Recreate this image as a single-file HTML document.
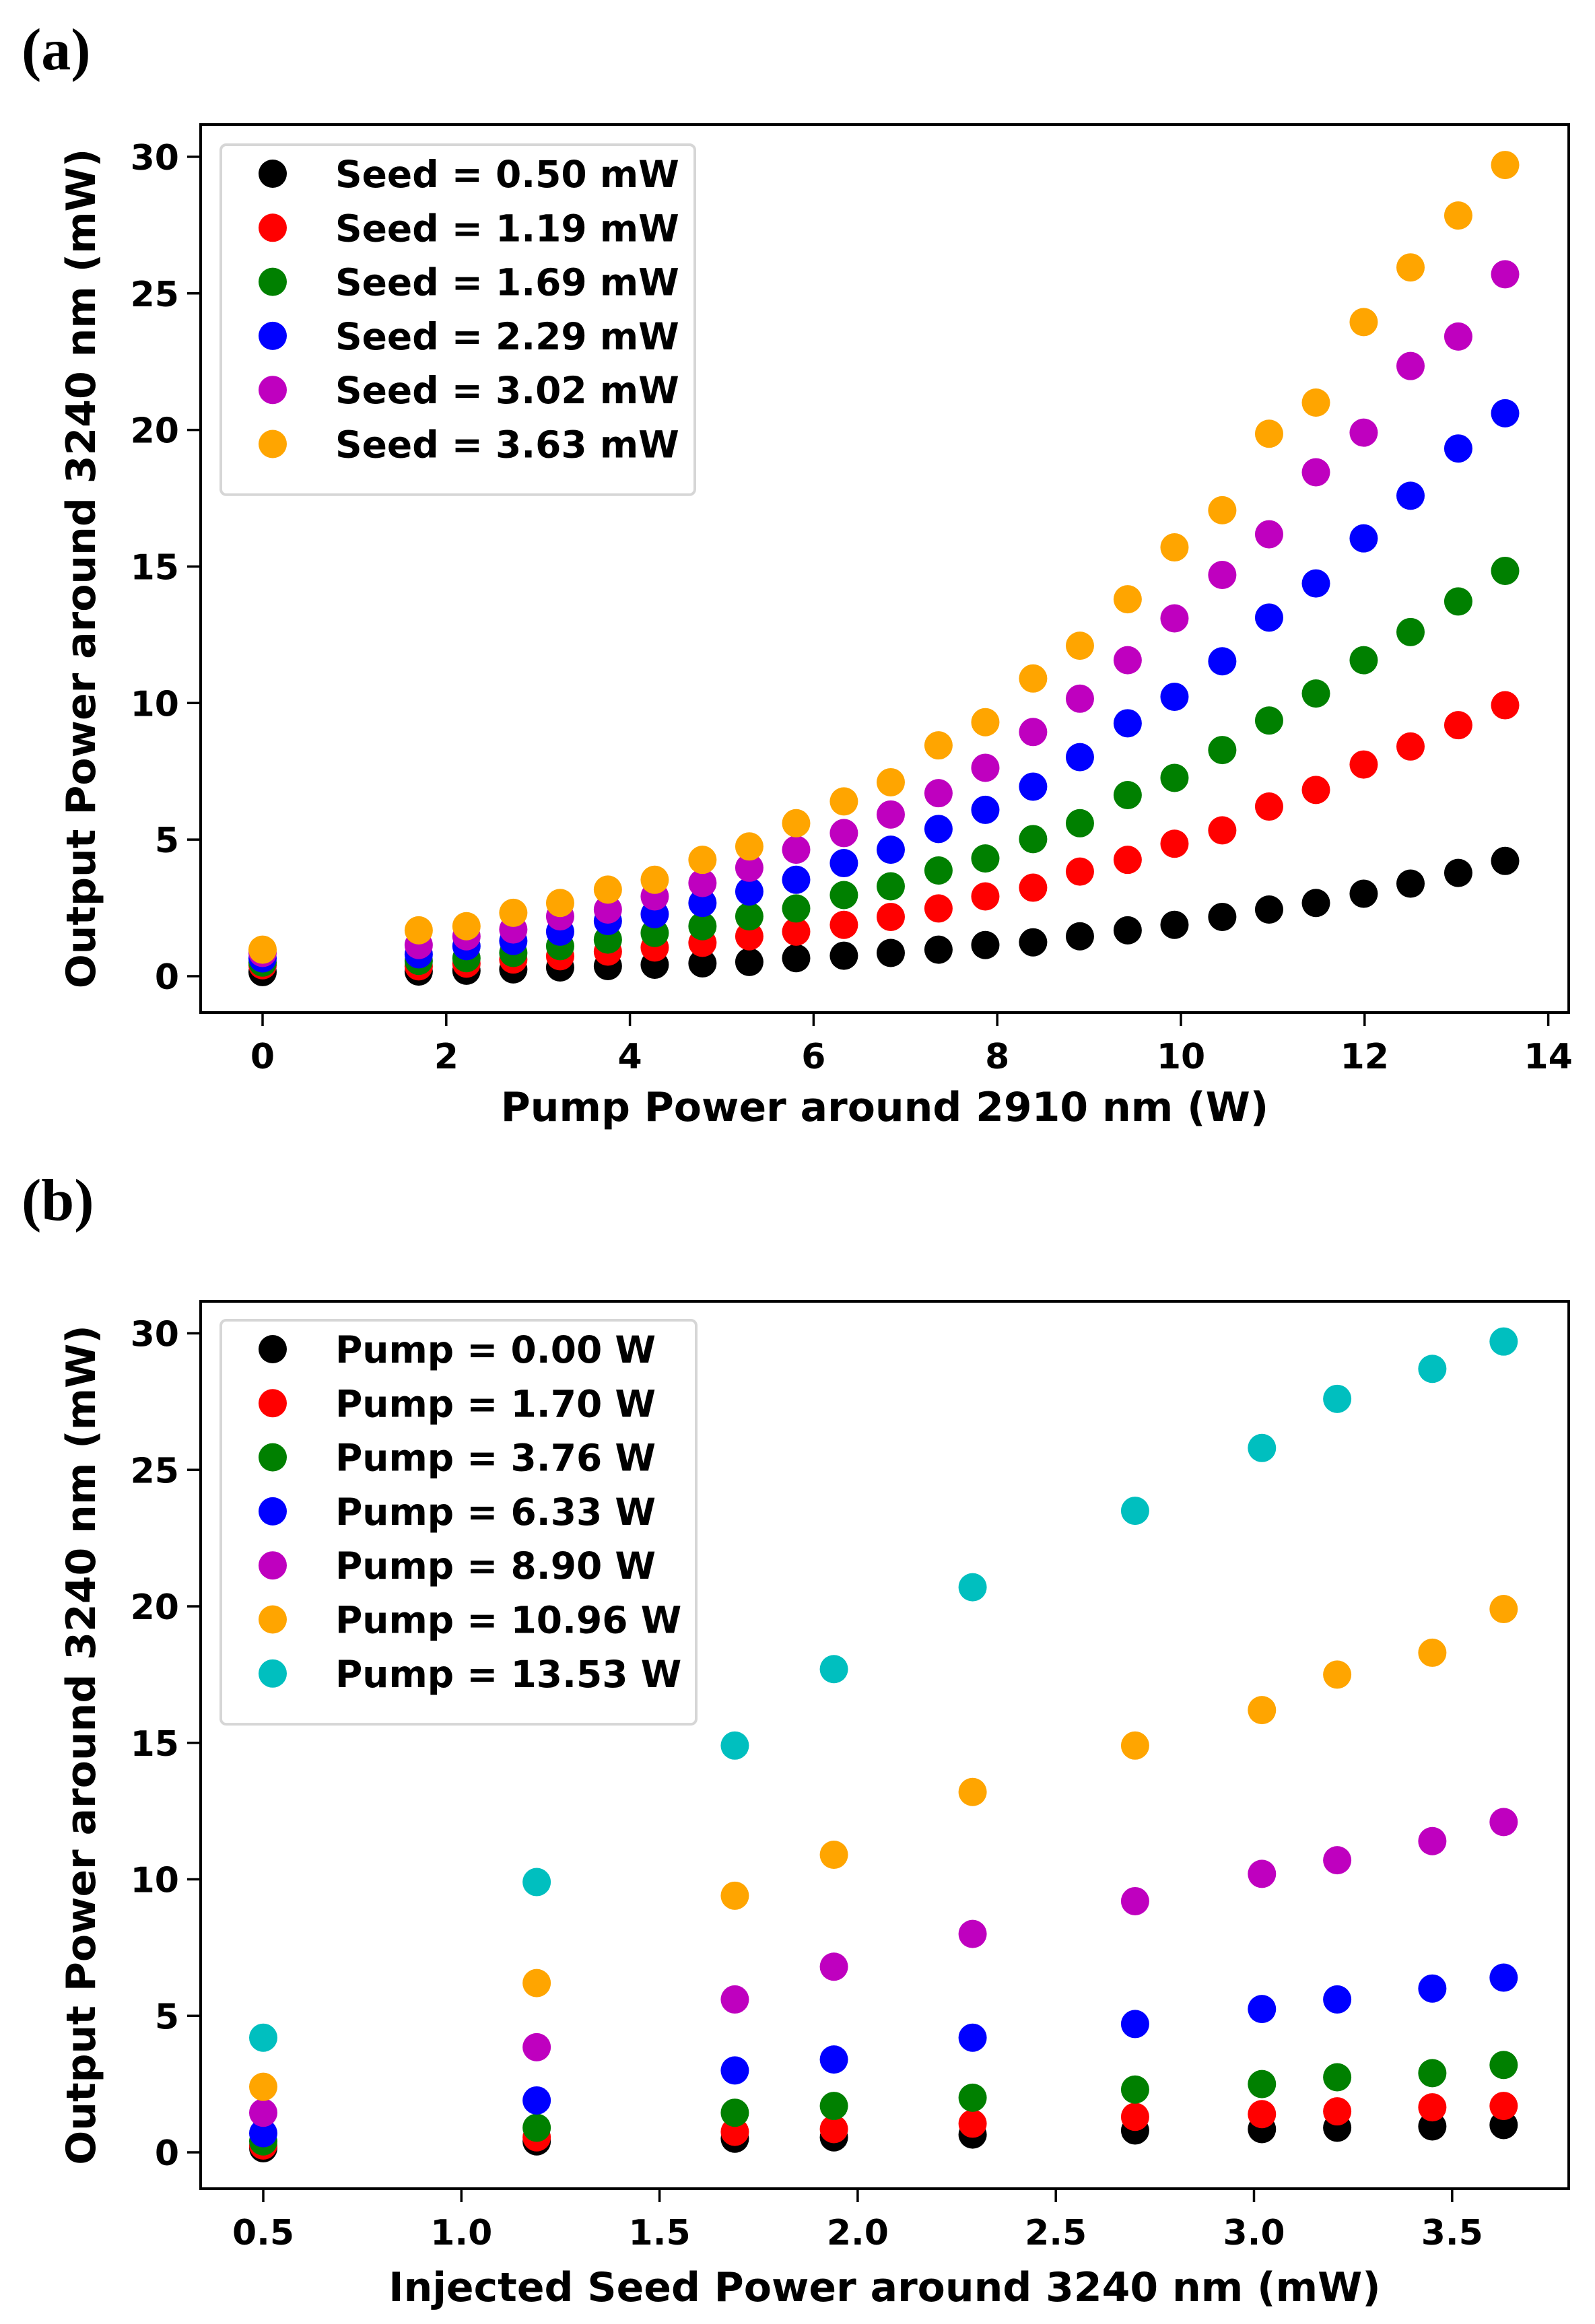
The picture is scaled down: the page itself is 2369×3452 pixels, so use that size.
<!DOCTYPE html>
<html><head><meta charset="utf-8"><style>
html,body{margin:0;padding:0;background:#fff;}
svg{display:block;}
text{font-family:"DejaVu Sans","Liberation Sans",sans-serif;font-weight:bold;fill:#000;}
.lbl{font-family:"Liberation Serif","DejaVu Serif",serif;font-weight:bold;}
</style></head><body>
<svg id="fig" width="2369" height="3452" viewBox="0 0 2369 3452" xmlns="http://www.w3.org/2000/svg">
<rect x="0" y="0" width="2369" height="3452" fill="#fff"/>
<text class="lbl" x="32" y="103" font-size="88">(a)</text>
<text class="lbl" x="32" y="1812" font-size="88">(b)</text>
</svg>
<script>
// ---------- Panel (a) data ----------
const pumpA = [0,1.70,2.22,2.73,3.24,3.76,4.27,4.79,5.30,5.81,6.33,6.84,7.36,7.87,8.39,8.90,9.42,9.93,10.45,10.96,11.47,11.99,12.50,13.02,13.53];
const seedLabelsA = ["Seed = 0.50 mW","Seed = 1.19 mW","Seed = 1.69 mW","Seed = 2.29 mW","Seed = 3.02 mW","Seed = 3.63 mW"];
const seed050 = [0.15,0.17,0.20,0.25,0.32,0.37,0.42,0.47,0.52,0.66,0.75,0.85,0.97,1.14,1.24,1.46,1.68,1.88,2.17,2.44,2.68,3.02,3.39,3.78,4.22];
const seed119 = [0.40,0.36,0.46,0.61,0.73,0.90,1.05,1.22,1.46,1.63,1.88,2.17,2.48,2.92,3.24,3.83,4.26,4.85,5.34,6.21,6.82,7.75,8.41,9.19,9.92];
const seed169 = [0.50,0.56,0.66,0.85,1.10,1.34,1.58,1.83,2.19,2.48,2.97,3.29,3.87,4.31,5.02,5.60,6.63,7.26,8.28,9.36,10.35,11.57,12.60,13.72,14.84];
const seed229 = [0.65,0.80,1.10,1.29,1.63,2.02,2.27,2.68,3.10,3.53,4.14,4.63,5.39,6.09,6.94,8.02,9.26,10.23,11.53,13.13,14.38,16.03,17.59,19.32,20.61];
const seed302 = [0.85,1.14,1.46,1.71,2.19,2.44,2.92,3.41,3.97,4.63,5.24,5.92,6.70,7.63,8.94,10.16,11.57,13.10,14.69,16.18,18.45,19.90,22.34,23.42,25.70];
const seed363 = [0.97,1.68,1.83,2.32,2.68,3.17,3.53,4.26,4.75,5.60,6.40,7.10,8.45,9.30,10.90,12.10,13.80,15.70,17.06,19.86,21.00,23.95,25.95,27.85,29.70];
const xTicksA = [0,2,4,6,8,10,12,14];
const yTicks = [0,5,10,15,20,25,30];

// ---------- Panel (b) data ----------
const seedB = [0.50,1.19,1.69,1.94,2.29,2.70,3.02,3.21,3.45,3.63];
const pumpLabelsB = ["Pump = 0.00 W","Pump = 1.70 W","Pump = 3.76 W","Pump = 6.33 W","Pump = 8.90 W","Pump = 10.96 W","Pump = 13.53 W"];
const pump000 = [0.15,0.40,0.50,0.55,0.65,0.80,0.85,0.90,0.95,1.00];
const pump170 = [0.25,0.55,0.75,0.85,1.05,1.30,1.40,1.50,1.65,1.70];
const pump376 = [0.40,0.90,1.45,1.70,2.00,2.30,2.50,2.75,2.90,3.20];
const pump633 = [0.70,1.90,3.00,3.40,4.20,4.70,5.25,5.60,6.00,6.40];
const pump890 = [1.45,3.85,5.60,6.80,8.00,9.20,10.20,10.70,11.40,12.10];
const pump1096 = [2.40,6.20,9.40,10.90,13.20,14.90,16.20,17.50,18.30,19.90];
const pump1353 = [4.20,9.90,14.90,17.70,20.70,23.50,25.80,27.60,28.70,29.70];
const xTicksB = [0.5,1.0,1.5,2.0,2.5,3.0,3.5];
const xTickTextB = ["0.5","1.0","1.5","2.0","2.5","3.0","3.5"];

const colorsA = ["#000000","#ff0000","#008000","#0000ff","#bf00bf","#ffa500"];
const colorsB = ["#000000","#ff0000","#008000","#0000ff","#bf00bf","#ffa500","#00bfbf"];

const NS = "http://www.w3.org/2000/svg";
const svg = document.getElementById("fig");
function mk(tag, attrs, parent, txt){
  const e = document.createElementNS(NS, tag);
  for (const k in attrs) e.setAttribute(k, attrs[k]);
  if (txt !== undefined) e.textContent = txt;
  (parent || svg).appendChild(e);
  return e;
}

function panel(cfg){
  const g = mk("g", {});
  
  
  const L=298, R=2330, T=cfg.top, B=cfg.bottom;
  const sx = v => cfg.x0px + (v - cfg.x0) * cfg.xPer;
  const sy = v => cfg.y0px - v * cfg.yPer;
  cfg.series.forEach((s, i) => {
    const sg = mk("g", {}, g);
    
    
    s.forEach((v, j) => {
      const c = mk("circle", {cx: sx(cfg.xs[j]), cy: sy(v), r: 21, fill: cfg.colors[i]}, sg);
      
      
    });
  });
  const frame = mk("rect", {x: L, y: T, width: R-L, height: B-T, fill: "none", stroke: "#000", "stroke-width": 4}, g);
  
  
  cfg.xTicks.forEach((v, i) => {
    const x = sx(v);
    const t = mk("line", {x1: x, x2: x, y1: B, y2: B+20, stroke: "#000", "stroke-width": 3.5}, g);
    
    
    const tl = mk("text", {x: x, y: B+83, "font-size": 52, "text-anchor": "middle"}, g, cfg.xTickText[i]);
    
    
  });
  yTicks.forEach(v => {
    const y = sy(v);
    const t = mk("line", {x1: L-20, x2: L, y1: y, y2: y, stroke: "#000", "stroke-width": 3.5}, g);
    
    
    const tl = mk("text", {x: L-32, y: y+19, "font-size": 52, "text-anchor": "end"}, g, String(v));
    
    
  });
  const xt = mk("text", {x: (L+R)/2, y: cfg.xTitleY, "font-size": 60, "text-anchor": "middle"}, g, cfg.xTitle);
  
  
  const cy = (T+B)/2;
  const yt = mk("text", {x: 0, y: 0, "font-size": 60, "text-anchor": "middle", transform: `translate(141 ${cy}) rotate(-90)`}, g, "Output Power around 3240 nm (mW)");
  
  
  const lg = mk("g", {}, g);
  
  
  const n = cfg.labels.length;
  mk("rect", {x: 328, y: cfg.legTop, width: cfg.legW, height: 44 + n*80.3 - 6, rx: 8, ry: 8, fill: "#fff", "fill-opacity": 0.85, stroke: "#d6d6d6", "stroke-width": 4}, lg);
  cfg.labels.forEach((lab, i) => {
    const y = cfg.legTop + 43 + i*80.3;
    const e = mk("g", {}, lg);
    
    
    mk("circle", {cx: 405, cy: y, r: 21, fill: cfg.colors[i]}, e);
    mk("text", {x: 498, y: y+20, "font-size": 55}, e, lab);
  });
}

panel({
  name: "panel-a-chart", top: 185, bottom: 1504,
  x0: 0, x0px: 390, xPer: 136.4, y0px: 1450, yPer: 40.57,
  xs: pumpA, series: [seed050, seed119, seed169, seed229, seed302, seed363],
  seriesNames: ["series-seed-0-50","series-seed-1-19","series-seed-1-69","series-seed-2-29","series-seed-3-02","series-seed-3-63"],
  colors: colorsA, xTicks: xTicksA, xTickText: xTicksA.map(String),
  xTitle: "Pump Power around 2910 nm (W)", xTitleY: 1665,
  labels: seedLabelsA, legTop: 215, legW: 704
});
panel({
  name: "panel-b-chart", top: 1933, bottom: 3251,
  x0: 0.5, x0px: 391, xPer: 588.6, y0px: 3197, yPer: 40.55,
  xs: seedB, series: [pump000, pump170, pump376, pump633, pump890, pump1096, pump1353],
  seriesNames: ["series-pump-0-00","series-pump-1-70","series-pump-3-76","series-pump-6-33","series-pump-8-90","series-pump-10-96","series-pump-13-53"],
  colors: colorsB, xTicks: xTicksB, xTickText: xTickTextB,
  xTitle: "Injected Seed Power around 3240 nm (mW)", xTitleY: 3418,
  labels: pumpLabelsB, legTop: 1961, legW: 706
});
</script>
</body></html>
